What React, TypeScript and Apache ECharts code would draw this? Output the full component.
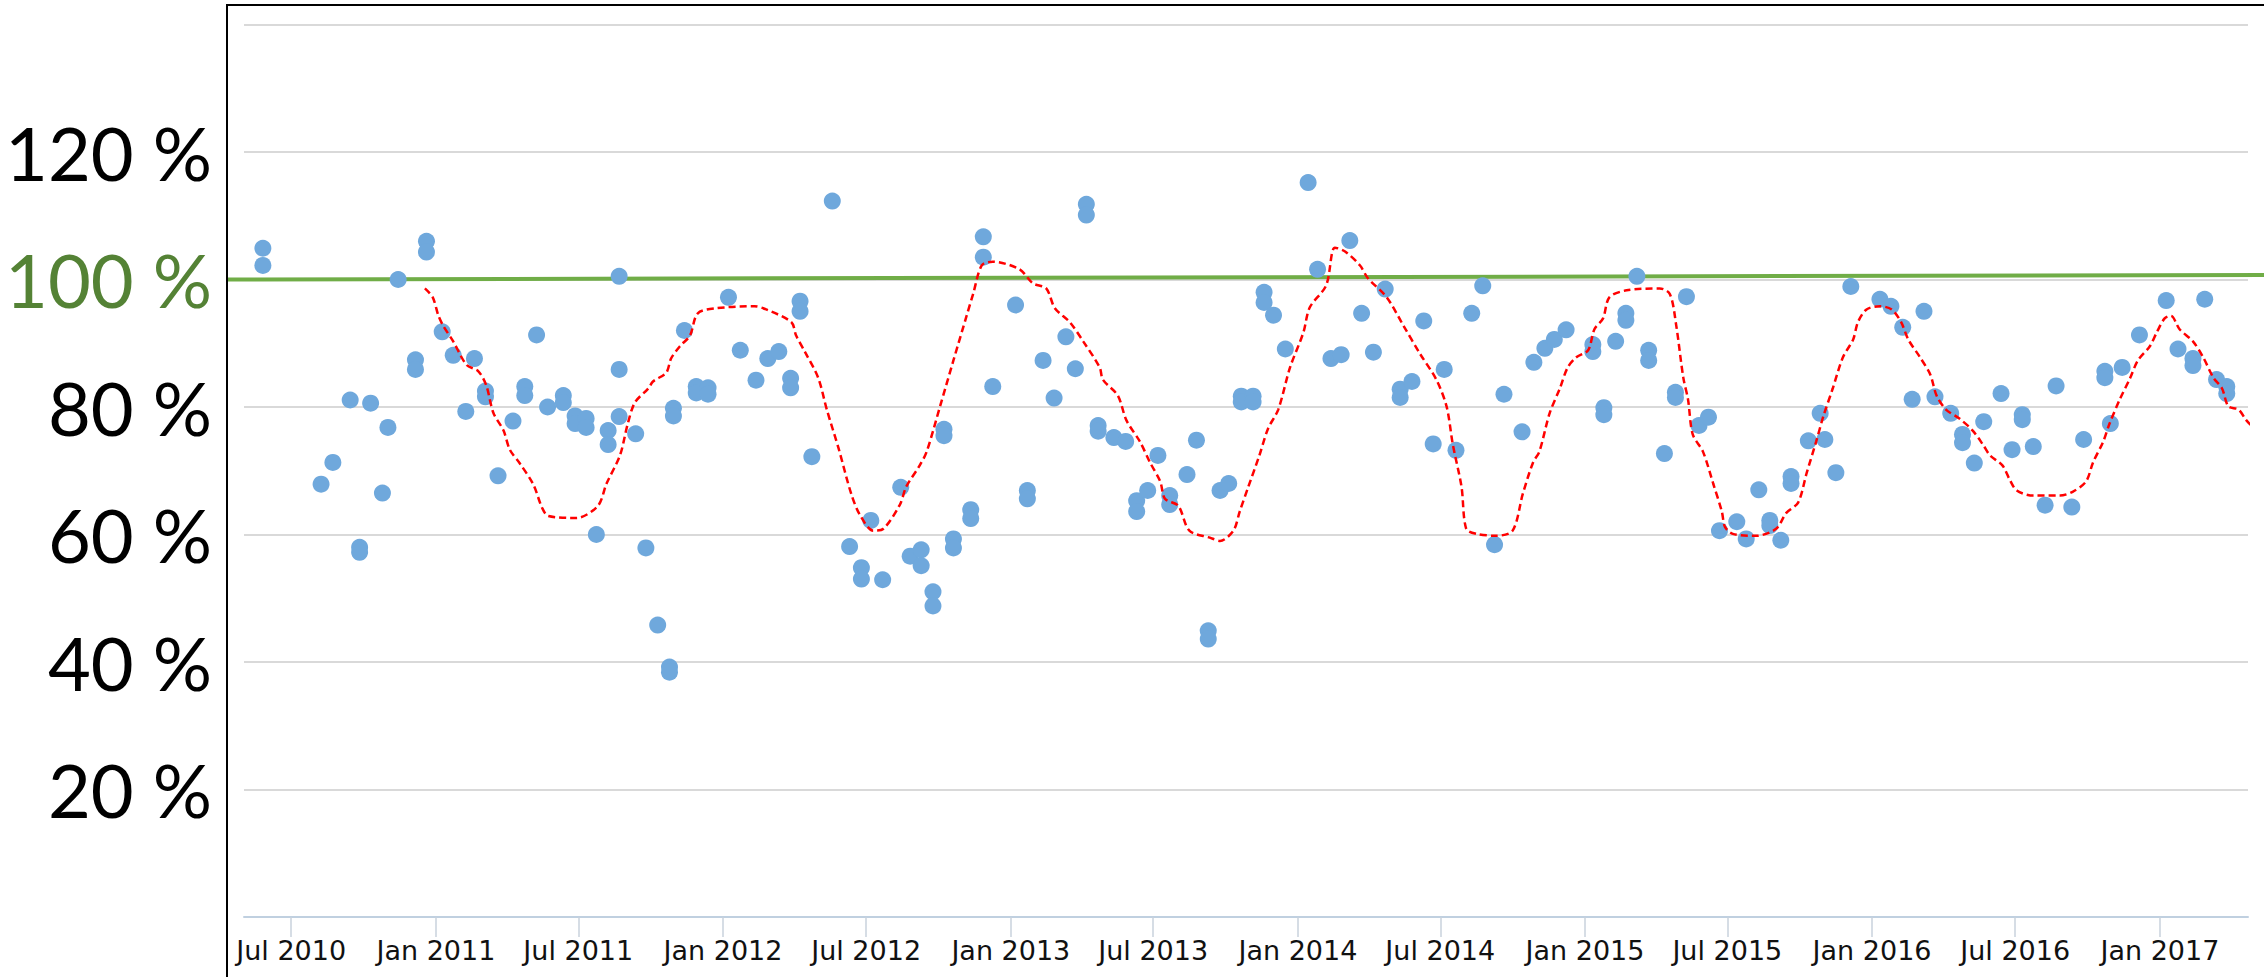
import React, { useEffect, useRef } from 'react';
import * as echarts from 'echarts';

// ---- Observations (date, percentage) ----
const obs2010: [string, number][] = [
  ['2010-05-26', 104.9], ['2010-05-26', 102.2],
  ['2010-08-08', 67.9], ['2010-08-23', 71.3], ['2010-09-14', 81.1],
  ['2010-09-26', 58.0], ['2010-09-26', 57.2],
  ['2010-10-10', 80.6], ['2010-10-25', 66.5], ['2010-11-01', 76.8],
  ['2010-11-14', 100.0],
  ['2010-12-06', 87.4], ['2010-12-06', 85.9],
  ['2010-12-20', 106.0], ['2010-12-20', 104.3],
];
const obs2011: [string, number][] = [
  ['2011-01-09', 91.8], ['2011-01-23', 88.1], ['2011-02-08', 79.3], ['2011-02-19', 87.6],
  ['2011-03-05', 82.5], ['2011-03-05', 81.6], ['2011-03-21', 69.2], ['2011-04-09', 77.8],
  ['2011-04-24', 83.2], ['2011-04-24', 81.8], ['2011-05-09', 91.3], ['2011-05-23', 80.0],
  ['2011-06-12', 81.8], ['2011-06-12', 80.7], ['2011-06-27', 78.6], ['2011-06-27', 77.4],
  ['2011-07-11', 78.2], ['2011-07-11', 76.8], ['2011-07-24', 60.0],
  ['2011-08-08', 76.3], ['2011-08-08', 74.1],
  ['2011-08-22', 100.5], ['2011-08-22', 85.9], ['2011-08-22', 78.5],
  ['2011-09-12', 75.8], ['2011-09-25', 57.9], ['2011-10-10', 45.8],
  ['2011-10-25', 39.2], ['2011-10-25', 38.4],
  ['2011-10-30', 79.8], ['2011-10-30', 78.6], ['2011-11-13', 92.0],
  ['2011-11-28', 83.2], ['2011-11-28', 82.2], ['2011-12-13', 83.0], ['2011-12-13', 82.0],
];
const obs2012: [string, number][] = [
  ['2012-01-08', 97.2], ['2012-01-23', 88.9], ['2012-02-12', 84.2], ['2012-02-27', 87.6],
  ['2012-03-12', 88.7], ['2012-03-27', 84.5], ['2012-03-27', 83.0],
  ['2012-04-08', 96.6], ['2012-04-08', 95.0], ['2012-04-23', 72.2], ['2012-05-19', 112.3],
  ['2012-06-10', 58.1], ['2012-06-25', 54.8], ['2012-06-25', 53.0], ['2012-07-07', 62.2],
  ['2012-07-22', 52.9], ['2012-08-14', 67.4], ['2012-08-26', 56.6],
  ['2012-09-09', 57.6], ['2012-09-09', 55.1], ['2012-09-24', 51.0], ['2012-09-24', 48.8],
  ['2012-10-08', 76.5], ['2012-10-08', 75.5], ['2012-10-20', 59.3], ['2012-10-20', 57.9],
  ['2012-11-11', 63.9], ['2012-11-11', 62.5], ['2012-11-27', 106.7], ['2012-11-27', 103.5],
  ['2012-12-09', 83.2],
];
const obs2013: [string, number][] = [
  ['2013-01-07', 96.0], ['2013-01-22', 66.9], ['2013-01-22', 65.6], ['2013-02-11', 87.3],
  ['2013-02-25', 81.4], ['2013-03-12', 91.0], ['2013-03-24', 86.0],
  ['2013-04-07', 111.8], ['2013-04-07', 110.1], ['2013-04-22', 77.1], ['2013-04-22', 76.2],
  ['2013-05-12', 75.2], ['2013-05-27', 74.6], ['2013-06-10', 65.3], ['2013-06-10', 63.6],
  ['2013-06-24', 66.9], ['2013-07-07', 72.4], ['2013-07-22', 66.1], ['2013-07-22', 64.7],
  ['2013-08-13', 69.4], ['2013-08-25', 74.8], ['2013-09-09', 44.9], ['2013-09-09', 43.6],
  ['2013-09-24', 66.9], ['2013-10-05', 68.0], ['2013-10-21', 81.7], ['2013-10-21', 80.8],
  ['2013-11-05', 81.7], ['2013-11-05', 80.8], ['2013-11-19', 98.0], ['2013-11-19', 96.4],
  ['2013-12-01', 94.4], ['2013-12-16', 89.1],
];
const obs2014: [string, number][] = [
  ['2014-01-14', 115.2], ['2014-01-26', 101.6], ['2014-02-12', 87.6], ['2014-02-25', 88.2],
  ['2014-03-08', 106.1], ['2014-03-23', 94.7], ['2014-04-07', 88.6], ['2014-04-22', 98.5],
  ['2014-05-11', 82.8], ['2014-05-11', 81.5], ['2014-05-26', 84.0], ['2014-06-10', 93.5],
  ['2014-06-22', 74.2], ['2014-07-06', 85.9], ['2014-07-21', 73.2], ['2014-08-10', 94.7],
  ['2014-08-24', 99.0], ['2014-09-08', 58.4], ['2014-09-20', 82.0], ['2014-10-13', 76.1],
  ['2014-10-28', 87.0], ['2014-11-11', 89.2], ['2014-11-23', 90.6], ['2014-12-08', 92.1],
];
const obs2015: [string, number][] = [
  ['2015-01-11', 89.8], ['2015-01-11', 88.7], ['2015-01-25', 79.9], ['2015-01-25', 78.8],
  ['2015-02-09', 90.3], ['2015-02-22', 94.7], ['2015-02-22', 93.6], ['2015-03-08', 100.5],
  ['2015-03-23', 88.9], ['2015-03-23', 87.3], ['2015-04-12', 72.7],
  ['2015-04-26', 82.3], ['2015-04-26', 81.5], ['2015-05-10', 97.3], ['2015-05-26', 77.1],
  ['2015-06-07', 78.4], ['2015-06-21', 60.6], ['2015-07-13', 62.0], ['2015-07-25', 59.3],
  ['2015-08-10', 67.0], ['2015-08-24', 62.2], ['2015-08-24', 61.4], ['2015-09-07', 59.1],
  ['2015-09-20', 69.1], ['2015-09-20', 68.0], ['2015-10-12', 74.7], ['2015-10-27', 79.0],
  ['2015-11-02', 74.9], ['2015-11-16', 69.7], ['2015-12-05', 98.9],
];
const obs2016: [string, number][] = [
  ['2016-01-11', 96.9], ['2016-01-25', 95.8], ['2016-02-09', 92.5], ['2016-02-21', 81.2],
  ['2016-03-07', 95.0], ['2016-03-21', 81.6], ['2016-04-10', 79.0],
  ['2016-04-25', 75.7], ['2016-04-25', 74.4], ['2016-05-10', 71.2], ['2016-05-22', 77.7],
  ['2016-06-13', 82.1], ['2016-06-27', 73.3], ['2016-07-10', 78.8], ['2016-07-10', 78.0],
  ['2016-07-24', 73.8], ['2016-08-08', 64.6], ['2016-08-22', 83.3], ['2016-09-11', 64.3],
  ['2016-09-26', 74.9], ['2016-10-23', 85.6], ['2016-10-23', 84.6], ['2016-10-30', 77.4],
  ['2016-11-14', 86.2], ['2016-12-06', 91.3],
];
const obs2017: [string, number][] = [
  ['2017-01-09', 96.7], ['2017-01-24', 89.1], ['2017-02-12', 87.6], ['2017-02-12', 86.5],
  ['2017-02-27', 96.9], ['2017-03-14', 84.3], ['2017-03-27', 83.2], ['2017-03-27', 82.1],
];

// ---- Moving-average trend (date, percentage) ----
const trend2011: [string, number][] = [
  ['2010-12-18', 98.6], ['2010-12-28', 97.2], ['2011-01-04', 94.4], ['2011-01-10', 92.8],
  ['2011-01-23', 90.3], ['2011-02-09', 86.6], ['2011-02-24', 85.6], ['2011-03-06', 83.4],
  ['2011-03-15', 79.1], ['2011-03-28', 76.3], ['2011-04-05', 73.3], ['2011-04-18', 71.1],
  ['2011-05-05', 67.8], ['2011-05-16', 64.2], ['2011-05-24', 62.9], ['2011-06-29', 62.6],
  ['2011-07-26', 64.5], ['2011-08-06', 68.0], ['2011-08-23', 72.4], ['2011-09-02', 77.4],
  ['2011-09-11', 80.7], ['2011-09-28', 82.9], ['2011-10-04', 84.0], ['2011-10-21', 85.4],
  ['2011-10-27', 87.6], ['2011-11-07', 89.5], ['2011-11-20', 91.2], ['2011-11-30', 94.7],
  ['2011-12-24', 95.5],
];
const trend2012: [string, number][] = [
  ['2012-02-10', 95.8], ['2012-02-25', 95.3], ['2012-03-28', 93.3], ['2012-04-03', 91.2],
  ['2012-04-14', 88.7], ['2012-05-01', 84.6], ['2012-05-12', 79.6], ['2012-05-27', 73.5],
  ['2012-06-12', 66.4], ['2012-06-23', 63.1], ['2012-07-10', 60.6], ['2012-07-23', 60.9],
  ['2012-08-13', 64.7], ['2012-08-21', 67.5], ['2012-09-07', 70.8], ['2012-09-16', 73.0],
  ['2012-10-03', 80.1], ['2012-10-20', 87.3], ['2012-11-06', 94.4], ['2012-11-14', 97.7],
  ['2012-11-25', 102.2], ['2012-12-09', 102.8],
];
const trend2013: [string, number][] = [
  ['2013-01-12', 101.6], ['2013-01-29', 99.4], ['2013-02-15', 98.6], ['2013-02-26', 95.5],
  ['2013-03-17', 93.3], ['2013-04-03', 90.3], ['2013-04-24', 86.2], ['2013-04-28', 84.3],
  ['2013-05-17', 81.8], ['2013-05-28', 77.9], ['2013-06-14', 74.6], ['2013-06-27', 71.3],
  ['2013-07-10', 68.3], ['2013-07-16', 65.6], ['2013-08-02', 64.5], ['2013-08-16', 60.6],
  ['2013-09-11', 59.5], ['2013-09-24', 59.0], ['2013-10-11', 60.6], ['2013-10-19', 63.6],
  ['2013-10-30', 67.5], ['2013-11-13', 72.4], ['2013-11-24', 76.6], ['2013-12-07', 79.6],
  ['2013-12-22', 86.2],
];
const trend2014: [string, number][] = [
  ['2014-01-08', 91.7], ['2014-01-16', 95.6], ['2014-02-06', 99.1], ['2014-02-17', 105.0],
  ['2014-03-02', 104.4], ['2014-03-21', 102.2], ['2014-03-31', 100.2], ['2014-04-24', 97.2],
  ['2014-05-15', 92.8], ['2014-06-05', 88.4], ['2014-06-26', 84.3], ['2014-07-09', 80.1],
  ['2014-07-17', 74.1], ['2014-07-28', 67.5], ['2014-08-03', 60.9], ['2014-08-16', 60.1],
  ['2014-09-10', 59.8], ['2014-10-01', 60.6], ['2014-10-14', 66.4], ['2014-10-27', 71.3],
  ['2014-11-04', 73.0], ['2014-11-17', 79.0], ['2014-11-30', 82.9], ['2014-12-10', 86.2],
  ['2014-12-21', 87.8],
];
const trend2015: [string, number][] = [
  ['2015-01-05', 88.9], ['2015-01-13', 92.2], ['2015-01-24', 93.9], ['2015-02-01', 97.2],
  ['2015-02-23', 98.3], ['2015-04-06', 98.6], ['2015-04-19', 97.7], ['2015-04-27', 92.8],
  ['2015-05-06', 84.6], ['2015-05-12', 81.2], ['2015-05-18', 75.7], ['2015-05-31', 73.0],
  ['2015-06-13', 68.0], ['2015-06-24', 63.6], ['2015-06-28', 61.2], ['2015-07-08', 60.1],
  ['2015-08-07', 59.8], ['2015-09-01', 60.9], ['2015-09-14', 63.4], ['2015-09-29', 65.0],
  ['2015-10-10', 69.7], ['2015-10-22', 74.6], ['2015-10-31', 78.5], ['2015-11-12', 82.9],
  ['2015-11-25', 87.8], ['2015-12-08', 90.6], ['2015-12-14', 93.3], ['2015-12-25', 95.3],
];
const trend2016: [string, number][] = [
  ['2016-01-11', 95.8], ['2016-01-26', 95.3], ['2016-02-07', 93.3], ['2016-02-16', 90.6],
  ['2016-03-02', 87.8], ['2016-03-15', 85.1], ['2016-03-23', 81.8], ['2016-04-04', 79.6],
  ['2016-04-21', 78.2], ['2016-05-08', 76.3], ['2016-05-21', 74.1], ['2016-05-30', 72.4],
  ['2016-06-15', 70.8], ['2016-06-24', 68.6], ['2016-07-03', 66.9], ['2016-07-24', 66.1],
  ['2016-08-27', 66.1], ['2016-09-12', 66.7], ['2016-09-29', 68.3], ['2016-10-08', 71.3],
  ['2016-10-21', 74.6], ['2016-10-29', 77.4], ['2016-11-11', 81.2], ['2016-11-24', 84.5],
  ['2016-12-04', 87.3], ['2016-12-19', 89.5], ['2016-12-28', 91.7],
];
const trend2017: [string, number][] = [
  ['2017-01-07', 93.9], ['2017-01-15', 94.3], ['2017-01-26', 92.2], ['2017-02-12', 90.3],
  ['2017-02-25', 87.8], ['2017-03-10', 84.6], ['2017-03-21', 82.9], ['2017-03-29', 80.1],
  ['2017-04-11', 79.6], ['2017-04-21', 77.9], ['2017-05-06', 76.0],
];

// ---- Axes ----
const xTickDates = [
  '2010-07-01', '2011-01-01', '2011-07-01', '2012-01-01', '2012-07-01', '2013-01-01',
  '2013-07-01', '2014-01-01', '2014-07-01', '2015-01-01', '2015-07-01', '2016-01-01',
  '2016-07-01', '2017-01-01',
];
const yLabelValues = [20, 40, 60, 80, 100, 120];
const MONTHS = ['Jan', 'Feb', 'Mar', 'Apr', 'May', 'Jun', 'Jul', 'Aug', 'Sep', 'Oct', 'Nov', 'Dec'];
const X_MIN = '2010-05-02';
const X_MAX = '2017-04-23';
const Y_MAX = 140;
const TARGET_START = 100;
const TARGET_END = 100.7;

function toTs(s: string): number {
  const [y, m, d] = s.split('-').map(Number);
  return Date.UTC(y, m - 1, d);
}

export default function App() {
  const ref = useRef<HTMLDivElement>(null);

  useEffect(() => {
    if (!ref.current) return;
    const chart = echarts.init(ref.current, undefined, { renderer: 'svg' });

    const observations = [...obs2010, ...obs2011, ...obs2012, ...obs2013, ...obs2014, ...obs2015, ...obs2016, ...obs2017]
      .map(([d, v]) => [toTs(d), v]);
    const trend = [...trend2011, ...trend2012, ...trend2013, ...trend2014, ...trend2015, ...trend2016, ...trend2017]
      .map(([d, v]) => [toTs(d), v]);
    const tickTs = xTickDates.map(toTs);

    chart.setOption({
      animation: false,
      backgroundColor: '#ffffff',
      grid: { left: 244, right: 16, top: 24.5, bottom: 60, containLabel: false },
      xAxis: {
        type: 'value',
        min: toTs(X_MIN),
        max: toTs(X_MAX),
        axisLine: { show: true, lineStyle: { color: '#c0d0e0', width: 2 } },
        axisTick: { show: true, customValues: tickTs, length: 20, lineStyle: { color: '#c8d2dc', width: 1.5 } },
        splitLine: { show: false },
        axisLabel: {
          customValues: tickTs,
          margin: 20,
          fontFamily: 'DejaVu Sans',
          fontSize: 27,
          color: '#111',
          formatter: (v: number) => {
            const d = new Date(Number(v));
            return `${MONTHS[d.getUTCMonth()]} ${d.getUTCFullYear()}`;
          },
        },
      },
      yAxis: {
        type: 'value',
        min: 0,
        max: Y_MAX,
        interval: 20,
        axisLine: { show: false },
        axisTick: { show: false },
        splitLine: { show: true, lineStyle: { color: '#d9d9d9', width: 2 } },
        axisLabel: {
          margin: 32,
          fontFamily: 'Lato',
          fontSize: 74,
          color: (v: any) => (Number(v) === 100 ? '#548235' : '#000000'),
          formatter: (v: number) => (yLabelValues.includes(Number(v)) ? `${v} %` : ''),
        },
      },
      series: [
        {
          type: 'scatter',
          data: observations,
          symbol: 'circle',
          symbolSize: 17,
          itemStyle: { color: '#6fa8dc', opacity: 1 },
          z: 2,
        },
        {
          type: 'line',
          data: trend,
          showSymbol: false,
          smooth: 0.3,
          clip: false,
          lineStyle: { color: '#ff0000', width: 2.5, type: [7, 4] },
          z: 3,
        },
      ],
    });

    const p1 = chart.convertToPixel({ gridIndex: 0 }, [toTs(X_MIN), TARGET_START]) as number[];
    const p2 = chart.convertToPixel({ gridIndex: 0 }, [toTs(X_MAX), TARGET_END]) as number[];
    const slope = (p2[1] - p1[1]) / (p2[0] - p1[0]);
    const lx = p1[0] - 17;
    const rx = p2[0] + 16;
    const frameX = p1[0] - 17;

    chart.setOption({
      graphic: [
        {
          type: 'line',
          z: 1,
          shape: { x1: lx, y1: p1[1] - 17 * slope, x2: rx, y2: p2[1] + 16 * slope },
          style: { stroke: '#70ad47', lineWidth: 4 },
        },
        {
          type: 'line',
          z: 5,
          shape: { x1: frameX, y1: 5, x2: 2264, y2: 5 },
          style: { stroke: '#000000', lineWidth: 2 },
        },
        {
          type: 'line',
          z: 5,
          shape: { x1: frameX, y1: 4, x2: frameX, y2: 977 },
          style: { stroke: '#000000', lineWidth: 2 },
        },
      ],
    });

    return () => chart.dispose();
  }, []);

  return (
    <div
      ref={ref}
      style={{ position: 'fixed', left: 0, top: 0, width: 2264, height: 977, background: '#fff' }}
    />
  );
}
